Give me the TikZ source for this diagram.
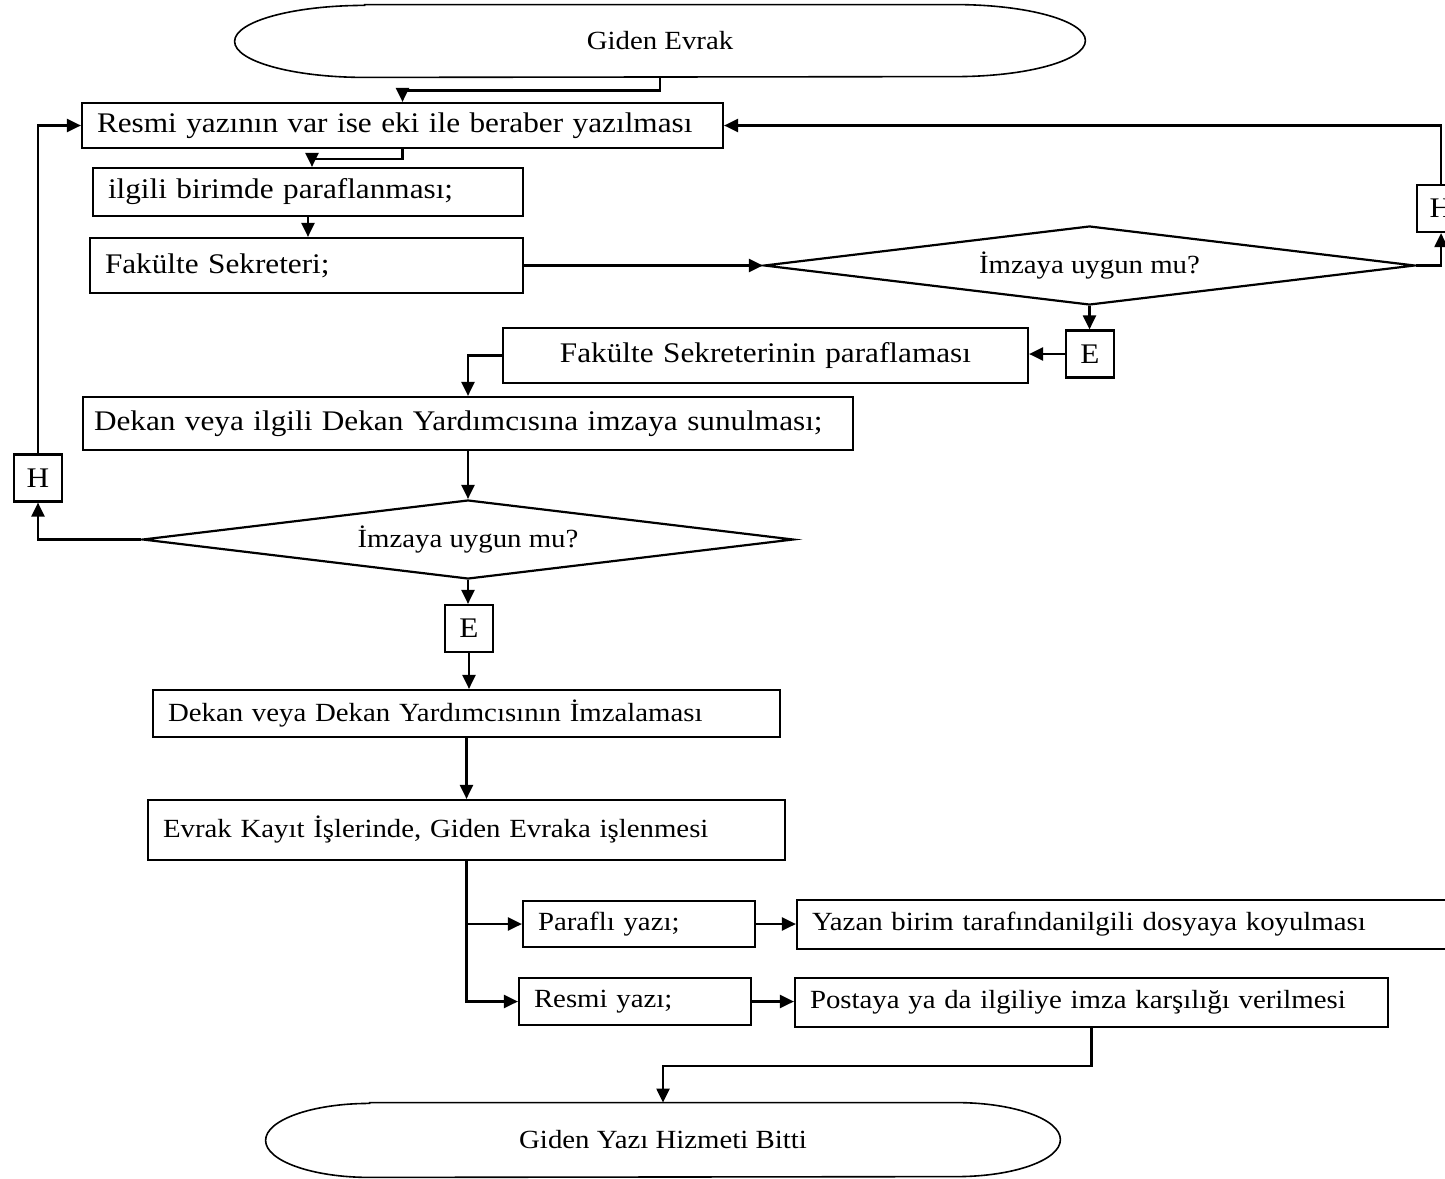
\documentclass[tikz,border=0pt]{standalone}
\usepackage{fontspec}
\setmainfont{Liberation Serif}[FakeStretch=1.1]
\usetikzlibrary{arrows.meta,shapes.geometric}
\newcommand{\bigtext}{\fontsize{14.2pt}{17pt}\selectfont}
\newcommand{\smalltext}{\fontsize{13.1pt}{16pt}\selectfont}
% flattened ellipse round a terminal node: name, end radius, half height
\newcommand{\drawterminal}[3]{
	\draw[line width=0.8pt] ([xshift=#2]#1.north west) -- ([xshift=-#2]#1.north east)
		arc[start angle=90,end angle=-90,x radius=#2,y radius=#3]
		-- ([xshift=#2]#1.south west)
		arc[start angle=270,end angle=90,x radius=#2,y radius=#3] -- cycle;
}
\begin{document}
\begin{tikzpicture}[x=0.5pt,y=-0.5pt,>={Triangle[length=7pt,width=6.5pt]},
	box/.style={draw,line width=1.1pt,inner ysep=0pt,inner xsep=7.5pt,align=left,font=\bigtext},
	decision/.style={diamond,draw,line width=1.1pt,inner sep=0pt,aspect=8.24,minimum width=325.5pt,minimum height=39.5pt,font=\smalltext},
	answer/.style={draw,line width=1.1pt,inner sep=0pt,minimum width=24pt,minimum height=23.5pt,font=\bigtext},
	terminal/.style={inner sep=0pt,font=\smalltext},
	link/.style={line width=1.1pt,->}]
	\useasboundingbox (0,0) rectangle (1445,1178);
	\clip (0,0) rectangle (1445,1178);
	% Başlangıç
	\node[terminal,minimum width=425pt,minimum height=36pt] (start) at (660,41) {Giden Evrak};
	\drawterminal{start}{65pt}{18pt}
	% Yazı ve paraf
	\node[box,text width=305.5pt,minimum height=22.5pt] (yazi) at (402.5,125.5) {Resmi yazının var ise eki ile beraber yazılması};
	\node[box,text width=200pt,minimum height=24pt] (paraf) at (308,192) {ilgili birimde paraflanması;};
	\node[box,text width=201.5pt,minimum height=27.5pt] (sekreter) at (306.5,265.5) {Fakülte Sekreteri;\\[4pt]};
	\node[decision] (uygun1) at (1089.5,265.5) {İmzaya uygun mu?};
	\node[answer] (hayir1) at (1441,208.5) {H};
	\node[answer] (evet1) at (1090,354) {E};
	\node[box,align=center,text width=247.5pt,minimum height=27.5pt] (sparaf) at (765.5,355.5) {Fakülte Sekreterinin paraflaması};
	% Dekana sunulması
	\node[box,inner xsep=5.5pt,text width=374pt,minimum height=26.5pt] (sunum) at (468,423.5) {Dekan veya ilgili Dekan Yardımcısına imzaya sunulması;};
	\node[decision] (uygun2) at (468,539.5) {İmzaya uygun mu?};
	\node[answer] (hayir2) at (38,478) {H};
	\node[answer] (evet2) at (469,628.5) {E};
	% İmza ve kayıt
	\node[box,font=\smalltext,text width=298.5pt,minimum height=23.5pt] (imza) at (466.5,713.5) {Dekan veya Dekan Yardımcısının İmzalaması};
	\node[box,font=\smalltext,text width=303.5pt,minimum height=30pt] (kayit) at (466.5,830) {Evrak Kayıt İşlerinde, Giden Evraka işlenmesi};
	\node[box,font=\smalltext,text width=101pt,minimum height=23pt] (parafli) at (639,924) {Paraflı yazı;};
	\node[box,font=\smalltext,text width=316.5pt,minimum height=24.5pt] (dosya) at (1128.5,924.5) {Yazan birim tarafındanilgili dosyaya koyulması};
	\node[box,font=\smalltext,text width=101pt,minimum height=23.5pt] (resmi) at (635,1001.5) {Resmi yazı;};
	\node[box,font=\smalltext,text width=281.5pt,minimum height=24.5pt] (posta) at (1091.5,1002.5) {Postaya ya da ilgiliye imza karşılığı verilmesi};
	% Bitiş
	\node[terminal,minimum width=397pt,minimum height=37pt] (bitis) at (663,1140) {Giden Yazı Hizmeti Bitti};
	\drawterminal{bitis}{52pt}{18.5pt}
	% Oklar
	\draw[link] (start.south) -- ++(0,13) -| (yazi.north);
	\draw[link] (yazi.south) -- ++(0,10) -| ([xshift=2pt]paraf.north);
	\draw[link] (paraf.south) -- (paraf.south |- sekreter.north);
	\draw[link] (sekreter.east) -- (uygun1.west);
	\draw[link] (uygun1.east) -| (hayir1.south);
	\draw[link] (hayir1.north) |- (yazi.east);
	\draw[link] (uygun1.south) -- (uygun1.south |- evet1.north);
	\draw[link] (evet1.west) -- (evet1.west -| sparaf.east);
	\draw[link] (sparaf.west) -| (sunum.north);
	\draw[link] (sunum.south) -- (uygun2.north);
	\draw[link] (uygun2.west) -| (hayir2.south);
	\draw[link] (hayir2.north) |- (yazi.west);
	\draw[link] (uygun2.south) -- (uygun2.south |- evet2.north);
	\draw[link] (evet2.south) -- (evet2.south |- imza.north);
	\draw[link] (imza.south) -- (kayit.north);
	\draw[link] (kayit.south) |- (parafli.west);
	\draw[link] (kayit.south) |- (resmi.west);
	\draw[link] (parafli.east) -- (parafli.east -| dosya.west);
	\draw[link] (resmi.east) -- (resmi.east -| posta.west);
	\draw[link] (posta.south) -- ++(0,38) -| (bitis.north);
\end{tikzpicture}
\end{document}
